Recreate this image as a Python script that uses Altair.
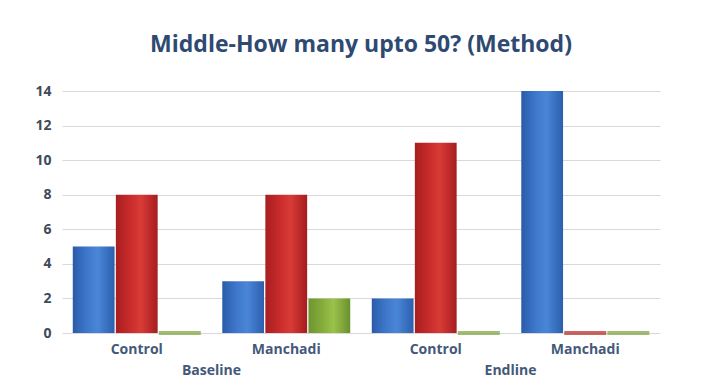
import altair as alt
import pandas as pd

title = "Middle-How many upto 50? (Method)"
phases = ["Baseline", "Baseline", "Endline", "Endline"]
groups = ["Control", "Manchadi", "Control", "Manchadi"]
series_names = ["Series 1", "Series 2", "Series 3"]
blue_vals = [5, 3, 2, 14]
red_vals = [8, 8, 11, 0]
green_vals = [0, 2, 0, 0]

keys = [f"{p}|{g}" for p, g in zip(phases, groups)]
rows = []
for vals, s in zip([blue_vals, red_vals, green_vals], series_names):
    for k, v in zip(keys, vals):
        rows.append({"key": k, "series": s, "value": v})
df = pd.DataFrame(rows)

# phase label anchors: boundary between the two groups of a phase
phase_rows = []
for p in ["Baseline", "Endline"]:
    ks = [k for k in keys if k.startswith(p + "|")]
    phase_rows.append({"key": ks[1], "phase": p})
phase_df = pd.DataFrame(phase_rows)

grads = {
    "Series 1": ["#2A5BAA", "#3F78CC", "#4A86D8", "#2C5EAD"],
    "Series 2": ["#A81E20", "#C92C2B", "#D93B36", "#A51D1F"],
    "Series 3": ["#6E9530", "#86AE3C", "#9BC24A", "#6A902E"],
}
floor_colors = {"Series 1": "#2E62B5", "Series 2": "#B52224", "Series 3": "#7BA33A"}

FONT = "Open Sans"
x_enc = alt.X(
    "key:N",
    sort=keys,
    scale=alt.Scale(paddingInner=0, paddingOuter=0),
    axis=alt.Axis(
        title=None,
        labelExpr="split(datum.label, '|')[1]",
        labelAngle=0,
        labelFont=FONT,
        labelFontSize=14,
        labelFontWeight="bold",
        labelColor="#44597A",
        labelPadding=9,
        ticks=False,
        domain=False,
        grid=False,
    ),
)
y_enc = alt.Y(
    "value:Q",
    scale=alt.Scale(domain=[0, 14], nice=False),
    axis=alt.Axis(
        title=None,
        values=[0, 2, 4, 6, 8, 10, 12, 14],
        labelFont=FONT,
        labelFontSize=14,
        labelFontWeight="bold",
        labelColor="#404A5A",
        labelPadding=11,
        ticks=False,
        domain=False,
        gridColor="#D9D9D9",
        gridWidth=1,
    ),
)
xoff = alt.XOffset(
    "series:N",
    sort=series_names,
    scale=alt.Scale(domain=series_names, paddingInner=0.03, paddingOuter=0.25),
)

layers = []
for s in series_names:
    stops = [alt.GradientStop(offset=o, color=c) for o, c in zip([0, 0.35, 0.6, 1], grads[s])]
    layers.append(
        alt.Chart(df)
        .transform_filter(alt.datum.series == s)
        .mark_bar(
            color=alt.Gradient(gradient="linear", x1=0, x2=1, y1=0, y2=0, stops=stops)
        )
        .encode(x=x_enc, y=y_enc, xOffset=xoff)
    )
    layers.append(
        alt.Chart(df)
        .transform_filter((alt.datum.series == s) & (alt.datum.value == 0))
        .mark_tick(color=floor_colors[s], thickness=4, size=42, orient="horizontal")
        .encode(x=x_enc, y=y_enc, xOffset=xoff)
    )

phase_text = (
    alt.Chart(phase_df)
    .mark_text(font=FONT, fontSize=14, fontWeight="bold", color="#44597A", baseline="middle")
    .encode(
        x=alt.X("key:N", sort=keys, bandPosition=0),
        y=alt.value(280),
        text="phase:N",
    )
)

chart = (
    alt.layer(*layers, phase_text)
    .properties(
        width=598,
        height=242,
        autosize=alt.AutoSizeParams(type="none"),
        padding={"left": 62, "top": 91, "right": 64, "bottom": 52},
        title=alt.TitleParams(
            title,
            font=FONT,
            fontSize=23,
            fontWeight="bold",
            color="#2F4A72",
            anchor="middle",
            offset=27,
        ),
        background="white",
    )
    .configure_view(stroke=None)
)

chart.save("out.html", embed_options={"renderer": "svg", "actions": False})
